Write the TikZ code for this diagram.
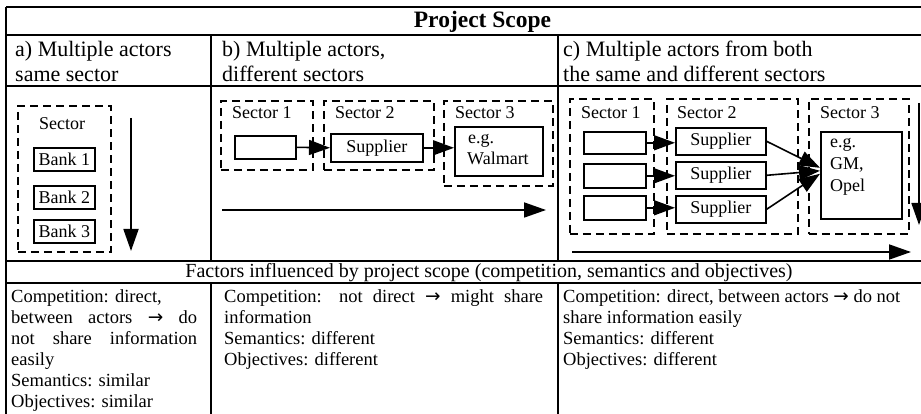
\documentclass[tikz,border=0pt]{standalone}
\usepackage{fontspec}
\setmainfont{Liberation Serif}
\newfontfamily\arrfont{DejaVu Sans}
\newcommand{\rarr}{{\arrfont →}}
\usetikzlibrary{arrows.meta,calc}
\begin{document}
\begin{tikzpicture}[x=1pt,y=-1pt,
  outer/.style={line width=2.5pt},
  tline/.style={line width=2pt},
  dbox/.style={draw,dash pattern=on 8pt off 5pt,line width=1.6pt,inner sep=0pt,anchor=north west},
  sbox/.style={draw,line width=1.6pt,inner sep=0pt,anchor=north west,font=\fontsize{18}{21}\selectfont},
  lbl/.style={font=\fontsize{18}{21}\selectfont,inner sep=0pt,anchor=base west},
  body/.style={font=\fontsize{18.5}{21}\selectfont,inner sep=0pt,anchor=base west},
  hdr/.style={font=\fontsize{22}{25}\selectfont,inner sep=0pt,anchor=base west},
  bigarrow/.style={line width=1.8pt,-{Triangle[length=22pt,width=15pt]}},
  linkarrow/.style={line width=1.6pt,-{Triangle[length=21pt,width=15pt]}},
]
\useasboundingbox (0,0) rectangle (921,414);
\clip (0,0) rectangle (921,414);
\fill[white] (0,0) rectangle (921,414);

% ---------- table grid ----------
\draw[outer] (6,7) -- (935,7);
\draw[outer] (6,7) -- (6,420);
\draw[tline] (6,35) -- (935,35);
\draw[tline] (6,86) -- (935,86);
\draw[tline] (6,261) -- (935,261);
\draw[tline] (6,283) -- (935,283);
\draw[tline] (211,35) -- (211,261);
\draw[tline] (558,35) -- (558,261);
\draw[tline] (211,283) -- (211,420);
\draw[tline] (558,283) -- (558,420);

% ---------- title and headers ----------
\node[font=\fontsize{23.5}{28}\selectfont\bfseries,inner sep=0pt,anchor=base] (title) at (482.5,28) {Project Scope};
\node[hdr] (ha1) at (15,57) {a) Multiple actors};
\node[hdr] (ha2) at (15,82) {same sector};
\node[hdr] (hb1) at (222,57) {b) Multiple actors,};
\node[hdr] (hb2) at (222,82) {different sectors};
\node[hdr] (hc1) at (563,57) {c) Multiple actors from both};
\node[hdr] (hc2) at (563,82) {the same and different sectors};

% ---------- column a ----------
\node[dbox,minimum width=93pt,minimum height=146pt] (secA) at (17,105) {};
\node[font=\fontsize{18}{21}\selectfont,inner sep=0pt,anchor=base] (secAl) at (62,130) {Sector};
\node[sbox,minimum width=61pt,minimum height=23pt] (bank1) at (33,147) {Bank 1};
\node[sbox,minimum width=61pt,minimum height=23pt] (bank2) at (33,185) {Bank 2};
\node[sbox,minimum width=61pt,minimum height=23pt] (bank3) at (33,219) {Bank 3};
\coordinate (da1) at (131,118);
\coordinate (da2) at (131,251);
\draw[bigarrow] (da1) -- (da2);

% ---------- column b ----------
\node[dbox,minimum width=92pt,minimum height=69pt] (s1b) at (220,100) {};
\node[dbox,minimum width=110pt,minimum height=69pt] (s2b) at (323,100) {};
\node[dbox,minimum width=109pt,minimum height=85pt] (s3b) at (443,100) {};
\node[lbl] (s1bl) at (232,119) {Sector 1};
\node[lbl] (s2bl) at (335,119) {Sector 2};
\node[lbl] (s3bl) at (455,119) {Sector 3};
\node[sbox,minimum width=61pt,minimum height=23pt] (e1b) at (234,135) {};
\node[sbox,minimum width=92pt,minimum height=28pt] (supb) at (330,133) {Supplier};
\node[sbox,minimum width=88pt,minimum height=49pt] (walb) at (454,126) {};
\node[lbl] (walb1) at (468,144) {e.g.};
\node[lbl] (walb2) at (467,165) {Walmart};
\draw[linkarrow] (e1b.east) -- (supb.west);
\draw[linkarrow] (supb.east) -- (supb.east -| walb.west);
\coordinate (lb1) at (222,210);
\coordinate (lb2) at (546,210);
\draw[bigarrow] (lb1) -- (lb2);

% ---------- column c ----------
\node[dbox,minimum width=84pt,minimum height=135pt] (s1c) at (569,98) {};
\node[dbox,minimum width=131pt,minimum height=135pt] (s2c) at (666,98) {};
\node[dbox,minimum width=100pt,minimum height=135pt] (s3c) at (808,98) {};
\node[lbl] (s1cl) at (581,119) {Sector 1};
\node[lbl] (s2cl) at (677,119) {Sector 2};
\node[lbl] (s3cl) at (820,119) {Sector 3};
\node[sbox,minimum width=62pt,minimum height=22pt] (e1c) at (583,131) {};
\node[sbox,minimum width=62pt,minimum height=24pt] (e2c) at (583,163) {};
\node[sbox,minimum width=62pt,minimum height=24pt] (e3c) at (583,195) {};
\node[sbox,minimum width=90pt,minimum height=27pt] (sup1) at (675,127) {Supplier};
\node[sbox,minimum width=90pt,minimum height=27pt] (sup2) at (675,161) {Supplier};
\node[sbox,minimum width=90pt,minimum height=27pt] (sup3) at (675,195) {Supplier};
\node[sbox,minimum width=81pt,minimum height=87pt] (gm) at (820,131) {};
\node[lbl] (gm1) at (830,148) {e.g.};
\node[lbl] (gm2) at (830,170) {GM,};
\node[lbl] (gm3) at (830,192) {Opel};
\draw[linkarrow] (e1c.east) -- (e1c.east -| sup1.west);
\draw[linkarrow] (e2c.east) -- (e2c.east -| sup2.west);
\draw[linkarrow] (e3c.east) -- (e3c.east -| sup3.west);
\coordinate (gmA) at ($(gm.west)+(0,-7.5)$);
\coordinate (gmB) at ($(gm.west)+(0,-4.5)$);
\coordinate (gmC) at ($(gm.west)+(0,-1.5)$);
\draw[linkarrow] (sup1.east) -- (gmA);
\draw[linkarrow] (sup2.east) -- (gmB);
\draw[linkarrow] (sup3.east) -- (gmC);
\coordinate (lc1) at (572,252);
\coordinate (lc2) at (911,252);
\draw[bigarrow] (lc1) -- (lc2);
\coordinate (dc1) at (919,103);
\coordinate (dc2) at (919,225);
\draw[bigarrow] (dc1) -- (dc2);

% ---------- factors ----------
\node[font=\fontsize{20}{22}\selectfont,inner sep=0pt,anchor=base] (factors) at (489,277) {Factors influenced by project scope (competition, semantics and objectives)};

\node[body] (a1) at (11,302) {Competition: direct,};
\node[body] (a2) at (11,323) {\makebox[186pt][s]{between actors \rarr{} do}};
\node[body] (a3) at (11,344) {\makebox[186pt][s]{not share information}};
\node[body] (a4) at (11,365) {easily};
\node[body] (a5) at (11,386) {Semantics: similar};
\node[body] (a6) at (11,407) {Objectives: similar};

\node[body] (b1) at (224,302) {\makebox[319pt][s]{Competition: not direct \rarr{} might share}};
\node[body] (b2) at (224,323) {information};
\node[body] (b3) at (224,344) {Semantics: different};
\node[body] (b4) at (224,365) {Objectives: different};

\node[body] (c1) at (563,302) {Competition: direct, between actors \rarr{} do not};
\node[body] (c2) at (563,323) {share information easily};
\node[body] (c3) at (563,344) {Semantics: different};
\node[body] (c4) at (563,365) {Objectives: different};
\end{tikzpicture}
\end{document}
